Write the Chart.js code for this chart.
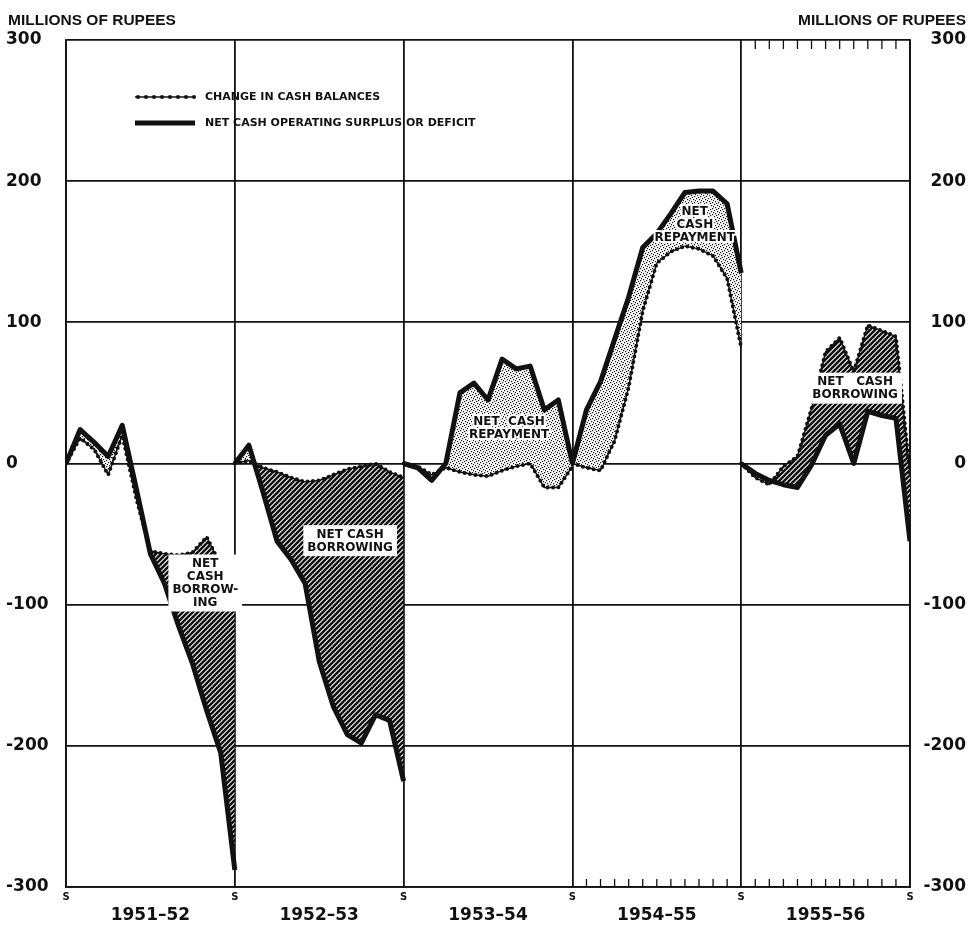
<!DOCTYPE html>
<html>
<head>
<meta charset="utf-8">
<script src="https://cdn.jsdelivr.net/npm/chart.js@4.4.1/dist/chart.umd.min.js"></script>
<style>
  html, body { margin: 0; padding: 0; background: #fff; }
  #wrap { width: 972px; height: 928px; }
</style>
</head>
<body>
<div id="wrap"><canvas id="chart" width="972" height="928"></canvas></div>
<script>
// fiscal years, months counted from the start of each year (S)
const fiscalYears = ['1951–52', '1952–53', '1953–54', '1954–55', '1955–56'];
const months = [0, 1, 2, 3, 4, 5, 6, 7, 8, 9, 10, 11, 12];
const yTicks = [-300, -200, -100, 0, 100, 200, 300];

// net cash operating surplus or deficit (cumulative, millions of rupees)
const surplus5152 = [0, 24, 15, 5, 27, -18, -64, -85, -115, -142, -175, -205, -288];
const surplus5253 = [0, 13, -20, -55, -68, -85, -140, -172, -192, -198, -178, -182, -225];
const surplus5354 = [0, -3, -12, 0, 50, 57, 45, 74, 67, 69, 38, 45, 0];
const surplus5455 = [0, 38, 58, 88, 118, 153, 163, 177, 192, 193, 193, 184, 135];
const surplus5556 = [0, -7, -12, -15, -17, -1, 20, 28, 0, 37, 34, 32, -55];

// change in cash balances
const cash5152 = [0, 18, 10, -8, 20, -25, -62, -64, -65, -63, -52, -72, -80];
const cash5253 = [0, 2, -3, -6, -10, -13, -12, -8, -4, -2, 0, -6, -10];
const cash5354 = [0, -2, -8, -3, -6, -8, -9, -5, -2, 0, -17, -17, -2];
const cash5455 = [0, -3, -5, 16, 54, 108, 142, 150, 154, 152, 147, 131, 82];
const cash5556 = [0, -10, -15, -2, 5, 39, 79, 89, 65, 98, 94, 90, -8];

const surplusByYear = [surplus5152, surplus5253, surplus5354, surplus5455, surplus5556];
const cashByYear = [cash5152, cash5253, cash5354, cash5455, cash5556];

// text placed inside the shaded areas (month index from 1951, value)
const notes = [
  { lines: ['NET', 'CASH', 'BORROW-', 'ING'], m: 9.9, v: -85, box: true },
  { lines: ['NET CASH', 'BORROWING'], m: 20.2, v: -55, box: true },
  { lines: ['NET  CASH', 'REPAYMENT'], m: 31.5, v: 25, box: false },
  { lines: ['NET', 'CASH', 'REPAYMENT'], m: 44.7, v: 169, box: false },
  { lines: ['NET   CASH', 'BORROWING'], m: 56.1, v: 53, box: true }
];

function makeHatch() {
  const c = document.createElement('canvas');
  c.width = 5; c.height = 5;
  const g = c.getContext('2d');
  g.fillStyle = '#fff';
  g.fillRect(0, 0, 5, 5);
  g.strokeStyle = '#111';
  g.lineWidth = 2.5;
  g.beginPath();
  g.moveTo(-1, 6); g.lineTo(6, -1);
  g.moveTo(-1, 1); g.lineTo(1, -1);
  g.moveTo(4, 6); g.lineTo(6, 4);
  g.stroke();
  return g.createPattern(c, 'repeat');
}

function makeStipple() {
  const c = document.createElement('canvas');
  c.width = 6; c.height = 6;
  const g = c.getContext('2d');
  g.fillStyle = '#fff';
  g.fillRect(0, 0, 6, 6);
  g.fillStyle = '#111';
  [[0, 0], [3, 1], [1, 3], [4, 4], [5, 2], [2, 5]].forEach(p => g.fillRect(p[0], p[1], 1.2, 1.2));
  return g.createPattern(c, 'repeat');
}

const hatch = makeHatch();
const stipple = makeStipple();

const datasets = [];
fiscalYears.forEach((fy, k) => {
  const base = datasets.length;
  datasets.push({
    label: 'Net cash operating surplus or deficit ' + fy,
    data: months.map(m => ({ x: 12 * k + m, y: surplusByYear[k][m] })),
    borderColor: '#111',
    borderWidth: 5,
    borderJoinStyle: 'round',
    pointRadius: 0,
    fill: { target: base + 1, above: stipple, below: hatch }
  });
  datasets.push({
    label: 'Change in cash balances ' + fy,
    data: months.map(m => ({ x: 12 * k + m, y: cashByYear[k][m] })),
    borderColor: '#111',
    borderWidth: 1.4,
    pointRadius: 0,
    fill: false
  });
  datasets.push({
    label: 'dots ' + fy,
    data: months.map(m => ({ x: 12 * k + m, y: cashByYear[k][m] })),
    borderColor: '#111',
    borderWidth: 4,
    borderDash: [0, 5.5],
    borderCapStyle: 'round',
    pointRadius: 0,
    fill: false
  });
});

const chartDecor = {
  id: 'chartDecor',
  afterDatasetsDraw(chart) {
    const { ctx, chartArea: a, scales: { x, y } } = chart;
    ctx.save();

    // month ticks along bottom of 1954-55 / 1955-56 and top of 1955-56
    ctx.strokeStyle = '#111';
    ctx.lineWidth = 1.3;
    ctx.beginPath();
    for (let m = 37; m < 60; m++) {
      if (m === 48) continue;
      const px = x.getPixelForValue(m);
      ctx.moveTo(px, a.bottom);
      ctx.lineTo(px, a.bottom - 8);
      if (m > 48) {
        ctx.moveTo(px, a.top);
        ctx.lineTo(px, a.top + 9);
      }
    }
    ctx.stroke();

    // notes inside the shaded areas
    ctx.font = 'bold 12px "DejaVu Sans"';
    ctx.textAlign = 'center';
    ctx.textBaseline = 'middle';
    const lh = 13;
    notes.forEach(n => {
      const cx = x.getPixelForValue(n.m);
      const cy = y.getPixelForValue(n.v);
      const w = Math.max(...n.lines.map(s => ctx.measureText(s).width));
      const h = n.lines.length * lh;
      const top = cy - h / 2;
      if (n.box) {
        ctx.fillStyle = '#fff';
        ctx.fillRect(cx - w / 2 - 4, top - 3, w + 8, h + 5);
      }
      n.lines.forEach((s, i) => {
        const ty = top + lh * i + lh / 2;
        if (!n.box) {
          ctx.strokeStyle = '#fff';
          ctx.lineWidth = 4;
          ctx.lineJoin = 'round';
          ctx.strokeText(s, cx, ty);
        }
        ctx.fillStyle = '#111';
        ctx.fillText(s, cx, ty);
      });
    });

    // legend
    const lx = a.left + 69, ly1 = a.top + 57, ly2 = a.top + 83;
    ctx.strokeStyle = '#111';
    ctx.lineWidth = 1.3;
    ctx.beginPath();
    ctx.moveTo(lx, ly1); ctx.lineTo(lx + 60, ly1);
    ctx.stroke();
    ctx.fillStyle = '#111';
    for (let d = 3; d < 60; d += 8) {
      ctx.beginPath();
      ctx.arc(lx + d, ly1, 2, 0, Math.PI * 2);
      ctx.fill();
    }
    ctx.lineWidth = 5;
    ctx.beginPath();
    ctx.moveTo(lx, ly2); ctx.lineTo(lx + 60, ly2);
    ctx.stroke();
    ctx.font = 'bold 11px "DejaVu Sans"';
    ctx.textAlign = 'left';
    ctx.textBaseline = 'middle';
    ctx.fillText('CHANGE IN CASH BALANCES', lx + 70, ly1);
    ctx.fillText('NET CASH OPERATING SURPLUS OR DEFICIT', lx + 70, ly2);
    ctx.restore();
  },
  afterDraw(chart) {
    const { ctx, chartArea: a, scales: { x } } = chart;
    ctx.save();
    ctx.fillStyle = '#111';
    ctx.font = 'bold 15.5px "Liberation Sans"';
    ctx.textBaseline = 'alphabetic';
    ctx.textAlign = 'left';
    ctx.fillText('MILLIONS OF RUPEES', 8, 25);
    ctx.textAlign = 'right';
    ctx.fillText('MILLIONS OF RUPEES', 966, 25);

    ctx.textAlign = 'center';
    ctx.textBaseline = 'middle';
    ctx.font = 'bold 10px "DejaVu Sans"';
    for (let k = 0; k <= fiscalYears.length; k++) {
      ctx.fillText('S', x.getPixelForValue(12 * k), a.bottom + 10);
    }
    ctx.font = 'bold 17px "DejaVu Sans"';
    fiscalYears.forEach((fy, k) => {
      ctx.fillText(fy, x.getPixelForValue(12 * k + 6), a.bottom + 29);
    });
    ctx.restore();
  }
};

const tickFont = { family: '"DejaVu Sans"', size: 17, weight: 'bold' };

new Chart(document.getElementById('chart'), {
  type: 'line',
  data: { datasets: datasets },
  options: {
    responsive: false,
    animation: false,
    layout: { padding: { left: 6, right: 6, top: 40, bottom: 0 } },
    plugins: {
      legend: { display: false },
      tooltip: { enabled: false },
      filler: { drawTime: 'beforeDatasetsDraw' }
    },
    scales: {
      x: {
        type: 'linear',
        min: 0,
        max: 60,
        ticks: { stepSize: 12, display: false },
        grid: { color: '#111', lineWidth: 1.8, drawTicks: false },
        border: { color: '#111', width: 1.8 },
        afterFit: s => { s.height = 41; }
      },
      y: {
        position: 'left',
        min: -300,
        max: 300,
        afterBuildTicks: s => { s.ticks = yTicks.map(v => ({ value: v })); },
        ticks: { color: '#111', font: tickFont, crossAlign: 'far', padding: 0 },
        grid: { color: '#111', lineWidth: 1.8, drawTicks: false },
        border: { color: '#111', width: 1.8 },
        afterFit: s => { s.width = 60; }
      },
      y2: {
        position: 'right',
        min: -300,
        max: 300,
        afterBuildTicks: s => { s.ticks = yTicks.map(v => ({ value: v })); },
        ticks: { color: '#111', font: tickFont, crossAlign: 'far', padding: 0 },
        grid: { display: false, drawTicks: false },
        border: { color: '#111', width: 1.8 },
        afterFit: s => { s.width = 56; }
      }
    }
  },
  plugins: [chartDecor]
});
</script>
</body>
</html>
